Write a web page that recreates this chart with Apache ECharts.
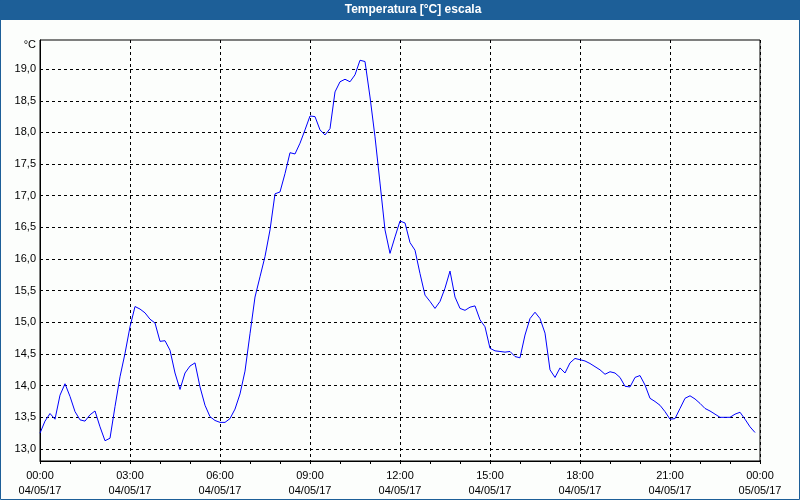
<!DOCTYPE html>
<html>
<head>
<meta charset="utf-8">
<script src="https://cdn.jsdelivr.net/npm/echarts@6/dist/echarts.min.js"></script>
<style>
html,body{margin:0;padding:0;background:#fcfefc;}
#chart{width:800px;height:500px;}
</style>
</head>
<body>
<div id="chart"></div>
<script>
// Sample interval of the logger (minutes), starting at 00:00 on 04/05/17
var stepMinutes = 10;
// Temperature readings (°C), one every 10 minutes
var temps = [
  13.25,13.44,13.56,13.47,13.85,14.03,13.83,13.59,13.46,13.44,13.54,13.60,
  13.35,13.13,13.17,13.67,14.14,14.51,14.93,15.25,15.21,15.15,15.05,14.99,
  14.70,14.71,14.56,14.20,13.94,14.20,14.31,14.36,13.98,13.69,13.51,13.45,
  13.42,13.42,13.48,13.63,13.87,14.23,14.82,15.40,15.72,16.04,16.46,17.03,
  17.06,17.35,17.68,17.66,17.83,18.04,18.26,18.25,18.04,17.96,18.06,18.64,
  18.80,18.84,18.80,18.91,19.14,19.12,18.56,17.93,17.20,16.46,16.09,16.35,
  16.60,16.57,16.26,16.14,15.77,15.43,15.33,15.22,15.33,15.54,15.81,15.40,
  15.22,15.19,15.24,15.26,15.04,14.93,14.59,14.55,14.54,14.53,14.54,14.46,
  14.44,14.80,15.06,15.16,15.06,14.83,14.25,14.13,14.28,14.20,14.36,14.43,
  14.41,14.39,14.35,14.30,14.25,14.18,14.22,14.20,14.13,13.99,13.98,14.13,
  14.16,14.01,13.80,13.75,13.69,13.59,13.47,13.48,13.64,13.80,13.84,13.79,
  13.72,13.64,13.60,13.55,13.50,13.50,13.50,13.55,13.58,13.47,13.35,13.26
];
// X tick labels every 3 hours
var xTickLabels = [
  "00:00\n04/05/17","03:00\n04/05/17","06:00\n04/05/17","09:00\n04/05/17",
  "12:00\n04/05/17","15:00\n04/05/17","18:00\n04/05/17","21:00\n04/05/17",
  "00:00\n05/05/17"
];
// Y tick values
var yTicks = [13.0,13.5,14.0,14.5,15.0,15.5,16.0,16.5,17.0,17.5,18.0,18.5,19.0];

var seriesData = temps.map(function(v,i){ return [i*stepMinutes/60, v]; });

var chart = echarts.init(document.getElementById('chart'), null, {renderer:'canvas'});
var font = 'Liberation Sans';
chart.setOption({
  backgroundColor:'#fcfefc',
  animation:false,
  graphic:[
    {type:'rect', shape:{x:0,y:0,width:800,height:20}, style:{fill:'#1d5f98'}, z:10},
    {type:'text', x:413, y:10, style:{text:'Temperatura [°C] escala', fill:'#ffffff',
      font:'bold 12px "Liberation Sans"', align:'center', verticalAlign:'middle'}, z:11},
    {type:'rect', shape:{x:0.5,y:0.5,width:799,height:499}, style:{fill:null, stroke:'#1d5f98', lineWidth:1}, z:12}
  ],
  grid:{left:40, right:40, top:40, bottom:39, show:true, borderColor:'#000', borderWidth:1, backgroundColor:'transparent'},
  xAxis:{
    type:'value', min:0, max:24, interval:3,
    axisLine:{show:true, lineStyle:{color:'#000', width:1}},
    axisTick:{show:true, length:3, lineStyle:{color:'#000'}},
    minorTick:{show:true, splitNumber:3, length:3, lineStyle:{color:'#000'}},
    splitLine:{show:true, lineStyle:{color:'#000', type:[3,3], width:1}},
    axisLabel:{
      margin:7, color:'#000', fontSize:11, fontFamily:font, lineHeight:15,
      showMinLabel:true, showMaxLabel:true,
      formatter:function(v){ return xTickLabels[Math.round(v/3)]; }
    }
  },
  yAxis:{
    type:'value', min:12.81, max:19.46,
    name:'°C', nameLocation:'end', nameGap:-5,
    nameTextStyle:{color:'#000', fontSize:11, fontFamily:font, align:'right', verticalAlign:'middle', padding:[0,4,0,0]},
    axisLine:{show:true, lineStyle:{color:'#000', width:1}},
    axisTick:{show:false, customValues:yTicks},
    splitLine:{show:true, lineStyle:{color:'#000', type:[3,3], width:1}},
    axisLabel:{
      customValues:yTicks, margin:4, color:'#000', fontSize:11, fontFamily:font,
      formatter:function(v){ return v.toFixed(1).replace('.', ','); }
    }
  },
  series:[{
    type:'line', data:seriesData, showSymbol:false, symbol:'none',
    lineStyle:{color:'#0000ff', width:1}, itemStyle:{color:'#0000ff'}
  }]
});
</script>
</body>
</html>
